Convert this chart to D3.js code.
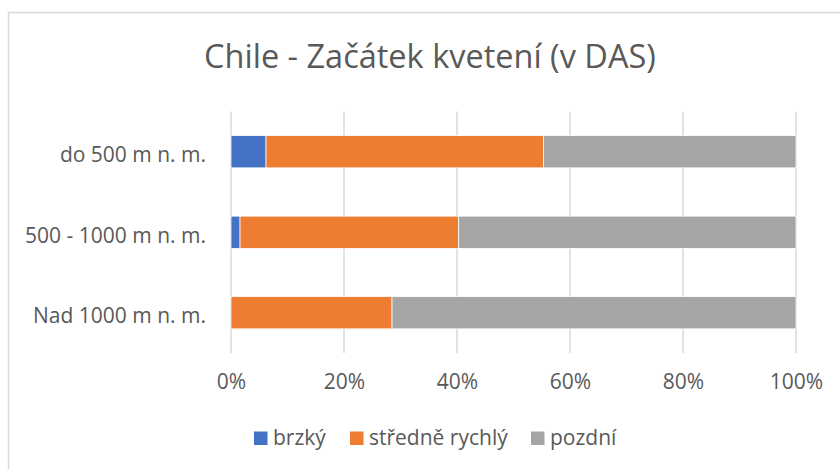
<!DOCTYPE html>
<html>
<head>
<meta charset="utf-8">
<script src="https://cdn.jsdelivr.net/npm/d3@7"></script>
<style>
  body { margin: 0; background: #fff; }
  svg text { font-family: "Open Sans", sans-serif; fill: #595959; }
</style>
</head>
<body>
<script>
// data (shares, in %)
var categories = ["do 500 m n. m.", "500 - 1000 m n. m.", "Nad 1000 m n. m."];
var seriesNames = ["brzký", "středně rychlý", "pozdní"];
var brzky = [6.2, 1.6, 0];
var stredne = [49.1, 38.7, 28.5];
var pozdni = [44.7, 59.7, 71.5];
var tickValues = [0, 0.2, 0.4, 0.6, 0.8, 1];
var colors = ["#4472C4", "#ED7D31", "#A5A5A5"];

var width = 840, height = 469;

var svg = d3.select("body").append("svg")
    .attr("width", width)
    .attr("height", height);

// chart border
svg.append("rect")
    .attr("x", 8.5).attr("y", 12.5)
    .attr("width", 900).attr("height", 500)
    .attr("fill", "#fff")
    .attr("stroke", "#D9D9D9")
    .attr("stroke-width", 1.5);

// title
svg.append("text")
    .attr("x", 430).attr("y", 68)
    .attr("text-anchor", "middle")
    .style("font-size", "32.5px")
    .text("Chile - Začátek kvetení (v DAS)");

var x = d3.scaleLinear().domain([0, 1]).range([231, 796]);
var y = d3.scaleBand().domain(categories).range([111.5, 353])
    .paddingInner(0.6).paddingOuter(0.3);

// gridlines
svg.append("g").selectAll("line")
    .data(tickValues)
    .enter().append("line")
    .attr("x1", d => x(d)).attr("x2", d => x(d))
    .attr("y1", 111.5).attr("y2", 353)
    .attr("stroke", "#D9D9D9")
    .attr("stroke-width", 1.5);

// x axis labels
var xAxis = d3.axisBottom(x).tickValues(tickValues)
    .tickFormat(d3.format(".0%")).tickSize(0).tickPadding(0);
var gx = svg.append("g")
    .attr("transform", "translate(0,374)")
    .call(xAxis);
gx.select(".domain").remove();
gx.selectAll("text")
    .style("font-family", "Open Sans, sans-serif")
    .style("font-size", "21px")
    .attr("fill", "#595959");

// category labels
var yAxis = d3.axisLeft(y).tickSize(0).tickPadding(0);
var gy = svg.append("g")
    .attr("transform", "translate(206,4)")
    .call(yAxis);
gy.select(".domain").remove();
gy.selectAll("text")
    .style("font-family", "Open Sans, sans-serif")
    .style("font-size", "21px")
    .attr("fill", "#595959");

// stacked bars
var rows = categories.map(function(c, i) {
  var total = brzky[i] + stredne[i] + pozdni[i];
  return { cat: c, v0: brzky[i] / total, v1: stredne[i] / total, v2: pozdni[i] / total };
});
var stack = d3.stack().keys(["v0", "v1", "v2"]);
var layers = stack(rows);

svg.append("g").selectAll("g")
    .data(layers)
    .enter().append("g")
    .attr("fill", (d, i) => colors[i])
    .selectAll("rect")
    .data(d => d)
    .enter().append("rect")
    .attr("x", d => x(d[0]))
    .attr("width", d => x(d[1]) - x(d[0]))
    .attr("y", d => y(d.data.cat))
    .attr("height", y.bandwidth())
    .attr("stroke", "#fff")
    .attr("stroke-width", 0.75)
    .attr("stroke-opacity", d => d[1] - d[0] > 0 ? 1 : 0);

// legend
var legendX = [254, 350, 531];
var legend = svg.append("g").selectAll("g")
    .data(seriesNames)
    .enter().append("g")
    .attr("transform", (d, i) => "translate(" + legendX[i] + ",431.5)");
legend.append("rect")
    .attr("width", 13.5).attr("height", 13.5)
    .attr("fill", (d, i) => colors[i]);
legend.append("text")
    .attr("x", 19).attr("y", 13)
    .style("font-size", "21px")
    .text(d => d);
</script>
</body>
</html>
